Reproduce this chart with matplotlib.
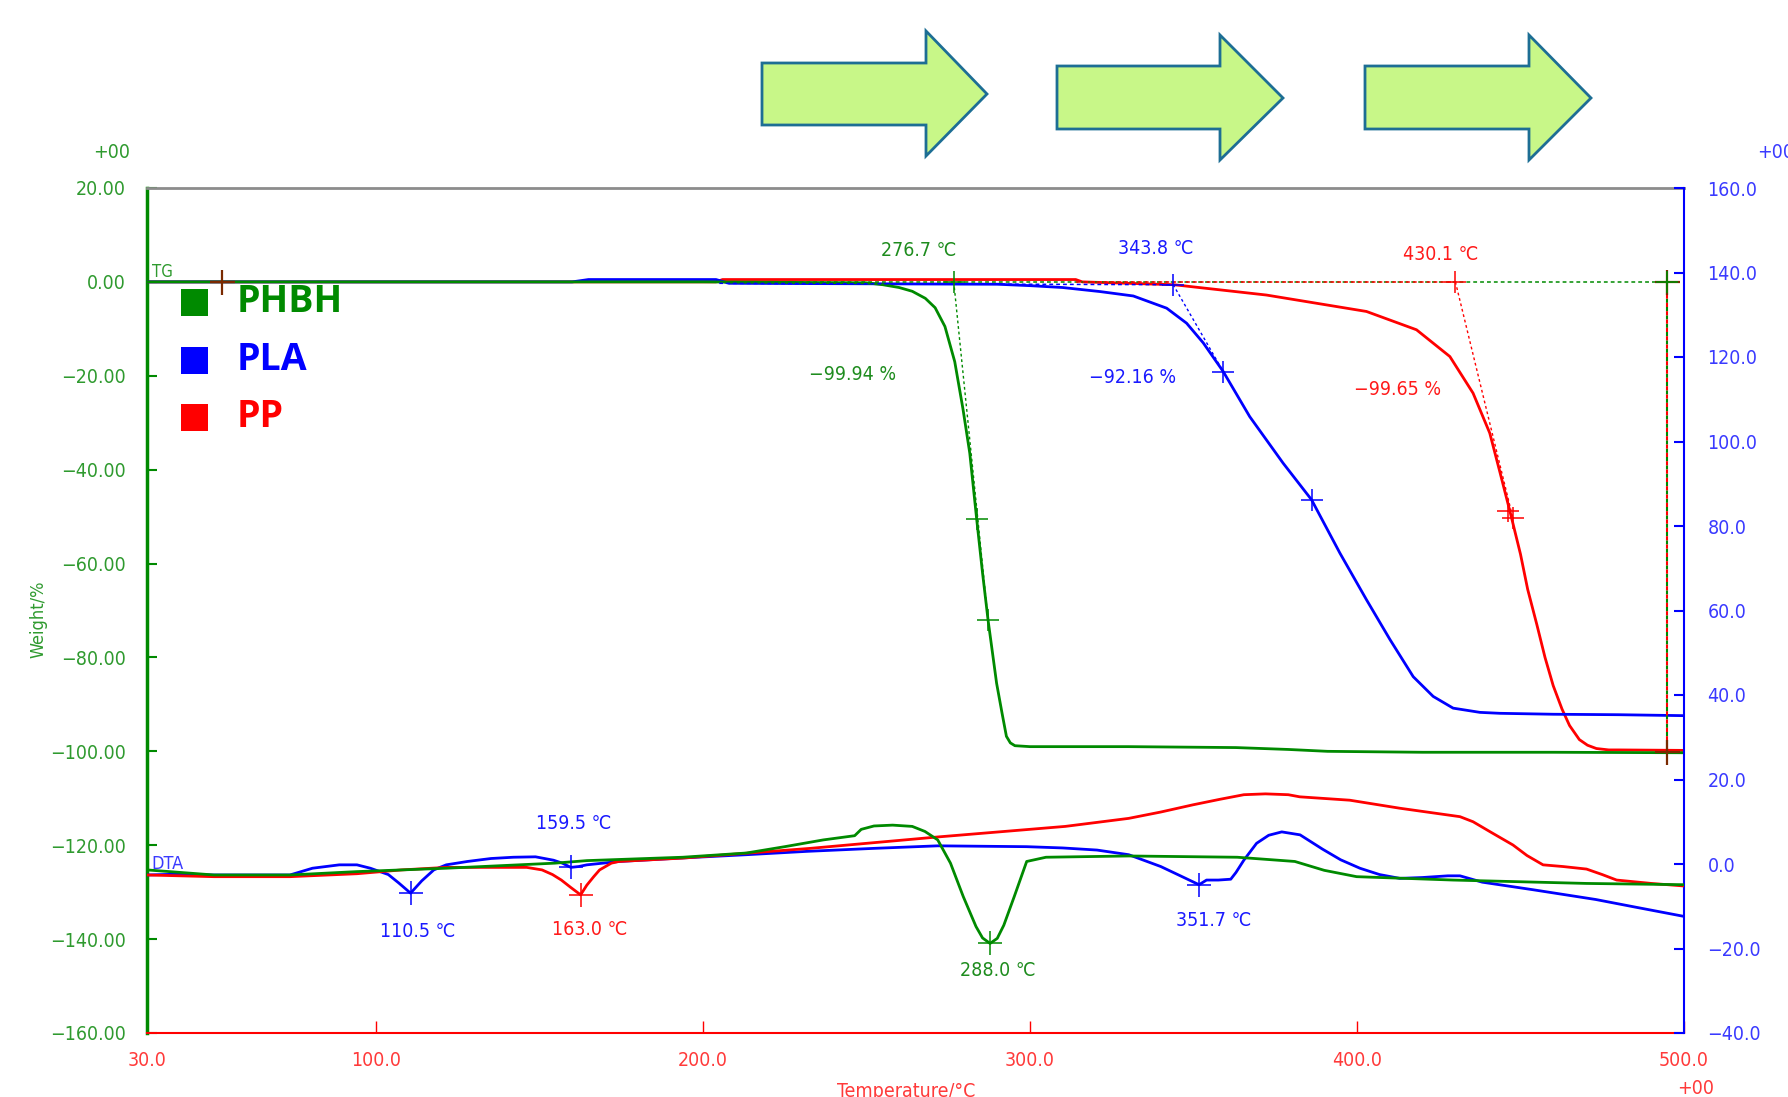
import matplotlib
matplotlib.use('Agg')
import matplotlib.pyplot as plt
from matplotlib import font_manager as fm
from matplotlib.patches import Polygon, Rectangle
from matplotlib.ticker import FixedLocator, FuncFormatter

# ---------------- data ----------------
# TG (weight %, left axis)
phbh_tg_T = [30, 100, 200, 250, 255, 260, 264, 268, 271, 274, 277, 279.5, 281.6, 283.7, 285.5, 287.2,
             289.8, 291.5, 292.8, 294, 295.4, 300, 330, 363, 379, 391, 420, 460, 500]
phbh_tg_W = [0, 0, 0, -0.2, -0.6, -1.2, -2.0, -3.5, -5.5, -9.5, -17, -27, -36.5, -50.5, -62, -72.1,
             -85.5, -92, -96.8, -98.2, -98.8, -99.0, -99.0, -99.2, -99.6, -100.0, -100.2, -100.2, -100.3]

pla_tg_T = [30, 160, 165, 204, 208, 290, 300, 310, 321.4, 331.6, 341.8, 347.9, 353, 359.1, 367.2, 377.4,
            386.1, 394.8, 402.9, 410.1, 417.2, 423.3, 429.4, 437.6, 443.7, 460, 480, 500]
pla_tg_W = [0, 0, 0.5, 0.5, -0.3, -0.5, -0.8, -1.2, -2.06, -3.0, -5.6, -8.8, -13.0, -19.1, -28.7, -38.6,
            -46.4, -57.8, -67.7, -76.2, -84.1, -88.3, -90.8, -91.7, -91.9, -92.1, -92.2, -92.4]

pp_tg_T = [30, 204, 206, 314, 316, 344, 372.3, 402.9, 418.2, 428.4, 435.5, 440.6, 443.7, 447, 450,
           452.2, 455, 457.5, 460, 462.7, 465, 468, 470.5, 473.2, 477, 480, 500]
pp_tg_W = [0, 0, 0.5, 0.5, 0, -0.6, -2.8, -6.3, -10.2, -15.9, -23.7, -32.2, -40.5, -49.5, -58,
           -65.5, -73, -80, -86, -91, -94.5, -97.5, -98.7, -99.4, -99.7, -99.7, -99.8]

# DTA (right axis)
pla_dta_T = [30, 40, 50, 73.7, 80.6, 88.8, 94.2, 98.3, 103.8, 107, 110.6, 114, 117.7, 121.5, 128, 135.2,
             142, 148.8, 154.3, 157, 159.6, 162, 164.5, 174.3, 193, 213.3, 232, 252.3, 271.8, 299, 310,
             320.5, 330.2, 340, 346, 351.7, 354, 357.6, 361.4, 363, 365.4, 369.3, 373, 377, 382.6, 389.5,
             395, 400.9, 406.9, 413.1, 420, 427.8, 431.5, 438.3, 453.9, 473, 484.4, 500]
pla_dta_D = [-2.6, -2.4, -2.6, -2.6, -1.0, -0.2, -0.2, -1.0, -2.5, -4.5, -6.9, -4.0, -1.4, -0.2, 0.6, 1.3,
             1.6, 1.7, 0.9, 0.2, -0.8, -0.6, -0.2, 0.6, 1.4, 2.2, 3.0, 3.7, 4.3, 4.1, 3.8,
             3.3, 2.2, -0.6, -2.8, -4.9, -3.8, -3.8, -3.6, -2.0, 0.9, 4.9, 6.8, 7.6, 6.9, 3.5,
             1.0, -1.0, -2.5, -3.4, -3.2, -2.8, -2.8, -4.3, -6.1, -8.4, -10.1, -12.4]

pp_dta_T = [30, 50.5, 73.7, 94.2, 107.9, 121.5, 146.1, 150.8, 154, 156.7, 159.5, 162.6, 164.5, 166.6,
            168.4, 172, 174.3, 193.8, 232.8, 271.8, 310.8, 330.2, 340, 349.8, 358, 365.4, 372, 379,
            382.5, 397.8, 413.1, 431.5, 435.5, 441, 447.7, 452, 456.9, 463, 470.2, 475, 479.4, 490, 500]
pp_dta_D = [-2.6, -3.0, -3.0, -2.3, -1.4, -0.8, -0.8, -1.4, -2.5, -3.8, -5.5, -7.3, -5.0, -3.0,
            -1.4, 0.2, 0.6, 1.4, 3.7, 6.4, 8.9, 10.8, 12.3, 14.0, 15.3, 16.4, 16.6, 16.4,
            15.9, 15.1, 13.2, 11.2, 10.0, 7.5, 4.5, 2.0, -0.2, -0.6, -1.2, -2.5, -3.8, -4.6, -5.2]

phbh_dta_T = [30, 50.5, 73.7, 94.2, 121.5, 154.7, 164.5, 193.8, 213.3, 225, 236.8, 246.4, 248.4, 252.3,
              258, 264, 267.9, 271.8, 275.7, 279.6, 283.5, 285.5, 287.8, 290, 292, 295.2, 299, 304.9,
              330.2, 363.4, 381, 390, 399.9, 429.4, 470.2, 500]
phbh_dta_D = [-1.4, -2.6, -2.6, -1.8, -1.0, 0.2, 0.8, 1.6, 2.6, 4.1, 5.7, 6.7, 8.2, 9.0,
              9.2, 8.9, 7.7, 5.7, 0.2, -7.7, -14.8, -17.5, -18.8, -17.6, -14.5, -7.7, 0.6, 1.6,
              1.9, 1.6, 0.6, -1.5, -3.0, -3.8, -4.6, -4.9]

# TG analysis results
onset_T = [276.7, 343.8, 430.1]
onset_W = [0.0, -0.6, 0.0]
loss_pct = [-99.94, -92.16, -99.65]
base_start_T = [53.0, 205.0, 314.0]
base_start_W = [0.0, -0.3, 0.0]
tan_end_T = [287.2, 359.1, 447.7]
tan_end_W = [-72.1, -19.1, -50.4]
infl_T = [[283.7, 287.2], [359.1, 386.1], [446.3, 447.7]]
infl_W = [[-50.5, -72.1], [-19.1, -46.4], [-48.7, -50.4]]
step_T = [53.0, 494.8]
step_W = [0.0, -100.1]

# DTA peaks
peak_T = [110.6, 159.6, 162.6, 287.8, 351.7]
peak_D = [-6.9, -0.8, -7.3, -18.8, -4.9]
peak_lbl = ['110.5 ℃', '159.5 ℃', '163.0 ℃', '288.0 ℃', '351.7 ℃']
peak_series = ['PLA', 'PLA', 'PP', 'PHBH', 'PLA']

series = ['PHBH', 'PLA', 'PP']
x_ticks = [30, 100, 200, 300, 400, 500]
left_ticks = list(range(-160, 21, 20))
right_ticks = list(range(-40, 161, 20))

# ---------------- fonts ----------------
ttf = fm.fontManager.ttflist
names = {f.name for f in ttf}
STRETCH = 'normal'
if 'Liberation Sans Narrow' in names:
    NARROW = ['Liberation Sans Narrow', 'DejaVu Sans']
    TS = 15
elif any(f.name == 'DejaVu Sans' and ('ondensed' in f.fname) for f in ttf):
    NARROW = ['DejaVu Sans']
    STRETCH = 'condensed'
    TS = 14
else:
    NARROW = ['DejaVu Sans']
    TS = 13
plt.rcParams['font.family'] = NARROW
plt.rcParams['font.stretch'] = STRETCH

BOLD_FAM = 'DejaVu Sans'
for fam in ['Noto Sans', 'Open Sans', 'Lato', 'Roboto', 'Liberation Sans']:
    if any(f.name == fam and (f.weight in (700, 'bold')) for f in ttf):
        BOLD_FAM = fam
        break

G, GT = '#008a00', '#2f9a2f'
B, BT = '#0000ff', '#3a3aff'
R, RT = '#ff0000', '#ff3a3a'
col = {'PHBH': G, 'PLA': B, 'PP': R}
tcol = {'PHBH': '#1e8c1e', 'PLA': '#1a1aff', 'PP': '#ff1a1a'}

W_, H_ = 1788, 1097
fig = plt.figure(figsize=(W_ / 100, H_ / 100), dpi=100)
L, Rr, T, Bt = 147, 1684, 188, 1033
ax = fig.add_axes([L / W_, 1 - Bt / H_, (Rr - L) / W_, (Bt - T) / H_])
ax2 = ax.twinx()

ax.set_xlim(30, 500)
ax.set_ylim(-160, 20)
ax2.set_ylim(-40, 160)

# spines
ax.spines['left'].set_color(G); ax.spines['left'].set_linewidth(2.5)
ax.spines['top'].set_color('#8c8c8c'); ax.spines['top'].set_linewidth(2)
ax.spines['bottom'].set_color(R); ax.spines['bottom'].set_linewidth(1.5)
ax.spines['right'].set_visible(False)
for s in ['left', 'top', 'bottom']:
    ax2.spines[s].set_visible(False)
ax2.spines['right'].set_color(B); ax2.spines['right'].set_linewidth(1.5)

minus = lambda s: s.replace('-', '\u2212')
ax.xaxis.set_major_locator(FixedLocator(x_ticks))
ax.xaxis.set_major_formatter(FuncFormatter(lambda v, p: '%.1f' % v))
ax.yaxis.set_major_locator(FixedLocator(left_ticks))
ax.yaxis.set_major_formatter(FuncFormatter(lambda v, p: minus('%.2f' % v)))
ax2.yaxis.set_major_locator(FixedLocator(right_ticks))
ax2.yaxis.set_major_formatter(FuncFormatter(lambda v, p: minus('%.1f' % (v + 0.0))))

ax.tick_params(axis='x', direction='in', length=9, width=1, color=R, labelcolor=RT, pad=13, labelsize=TS)
ax.tick_params(axis='y', direction='in', length=7, width=1.5, color=G, labelcolor=GT, pad=15, labelsize=TS)
ax2.tick_params(axis='y', direction='in', length=7, width=1.5, color=B, labelcolor=BT, pad=17, labelsize=TS)

# ---------------- TG curves ----------------
ax.plot(pp_tg_T, pp_tg_W, color=R, lw=2, zorder=3)
ax.plot(pla_tg_T, pla_tg_W, color=B, lw=2, zorder=3)
ax.plot(phbh_tg_T, phbh_tg_W, color=G, lw=2, zorder=3)

# onset construction lines
dash = (0, (2.5, 2))
for i, s in enumerate(series):
    c = col[s]
    end = step_T[1] if s == 'PHBH' else onset_T[i]
    ax.plot([base_start_T[i], end], [base_start_W[i], onset_W[i]], ls=dash, color=c, lw=1.1, zorder=4)
    ax.plot([onset_T[i], tan_end_T[i]], [onset_W[i], tan_end_W[i]], ls=(0, (2, 2)), color=c, lw=1.0, zorder=4)
    ax.plot([onset_T[i]], [onset_W[i]], '+', color=c, ms=16, mew=1.1, zorder=5)
    ax.plot(infl_T[i], infl_W[i], '+', color=c, ms=16, mew=1.1, zorder=5)
    ax.annotate('%.1f ℃' % onset_T[i], (onset_T[i], onset_W[i]), xytext=[(-35, 31), (-17, 36), (-15, 27)][i],
                textcoords='offset pixels', ha='center', va='center', color=tcol[s], fontsize=TS,
                annotation_clip=False)
    ax.annotate(minus('%.2f %%' % loss_pct[i]), (onset_T[i], onset_W[i]),
                xytext=[(-101, -93), (-41, -93), (-58, -108)][i],
                textcoords='offset pixels', ha='center', va='center', color=tcol[s], fontsize=TS,
                annotation_clip=False)

# end step lines
ax.plot([step_T[1], step_T[1]], [step_W[0], step_W[1]], ls=(0, (2, 2)), color=G, lw=1.5, zorder=4)
ax.plot([step_T[1], step_T[1]], [step_W[0], step_W[1]], ls=(2, (2, 2)), color=R, lw=1.5, zorder=4)
ax.plot(step_T, [0, 0], '+', color='#7a2a00', ms=18, mew=1.6, zorder=5)
ax.plot([step_T[1]], [step_W[1]], '+', color='#7a2a00', ms=18, mew=1.6, zorder=5)
ax.plot([step_T[1]], [step_W[0]], '+', color=G, ms=16, mew=1.2, zorder=6)

# ---------------- DTA curves ----------------
ax2.plot(pla_dta_T, pla_dta_D, color=B, lw=2, zorder=3)
ax2.plot(pp_dta_T, pp_dta_D, color=R, lw=2, zorder=3)
ax2.plot(phbh_dta_T, phbh_dta_D, color=G, lw=2, zorder=3)
offs = [(7, -38), (3, 44), (9, -35), (8, -27), (15, -36)]
for pt, pd, lb, s, o in zip(peak_T, peak_D, peak_lbl, peak_series, offs):
    ax2.plot([pt], [pd], '+', color=col[s], ms=17, mew=1.1, zorder=5)
    ax2.annotate(lb, (pt, pd), xytext=o, textcoords='offset pixels', ha='center', va='center',
                 color=tcol[s], fontsize=TS, annotation_clip=False)

# ---------------- texts ----------------
fig.text(152 / W_, 1 - 281 / H_, 'TG', color=GT, fontsize=TS - 2, ha='left', va='bottom')
fig.text(151 / W_, 1 - 873 / H_, 'DTA', color=BT, fontsize=TS - 1, ha='left', va='bottom')
fig.text(112 / W_, 1 - 153 / H_, '+00', color=GT, fontsize=TS, ha='center', va='center')
fig.text(1757 / W_, 1 - 153 / H_, '+00', color=BT, fontsize=TS, ha='left', va='center')
fig.text(1696 / W_, 1 - 1089 / H_, '+00', color=RT, fontsize=TS, ha='center', va='center')
fig.text(38 / W_, 1 - 619 / H_, 'Weight/%', rotation=90, color=GT, fontsize=TS - 1, ha='center', va='center')
fig.text(906 / W_, 1 - 1082 / H_, 'Temperature/°C', color=RT, fontsize=TS, ha='center', va='top')

# legend
leg_y = [302, 360, 417]
for s, y in zip(series, leg_y):
    fig.add_artist(Rectangle((181 / W_, 1 - (y + 14) / H_), 27 / W_, 27 / H_, transform=fig.transFigure,
                             facecolor=col[s], edgecolor='none'))
    fig.text(237 / W_, 1 - y / H_, s, color=col[s], fontsize=27, fontweight='bold', fontstretch='normal',
             family=[BOLD_FAM, 'DejaVu Sans'], ha='left', va='center')

# decorative arrows
arrows = [(762, 63, 125, 926, 31, 156, 987, 94),
          (1057, 66, 129, 1220, 35, 160, 1283, 98),
          (1365, 66, 129, 1529, 35, 160, 1591, 98)]
for x0, st, sb, hb, ht, hbm, tx, ty in arrows:
    pts = [(x0, st), (hb, st), (hb, ht), (tx, ty), (hb, hbm), (hb, sb), (x0, sb)]
    pts = [(px / W_, 1 - py / H_) for px, py in pts]
    fig.add_artist(Polygon(pts, closed=True, transform=fig.transFigure, facecolor='#c8f788',
                           edgecolor='#1d6e94', lw=2))

fig.savefig('out.png', dpi=100)
